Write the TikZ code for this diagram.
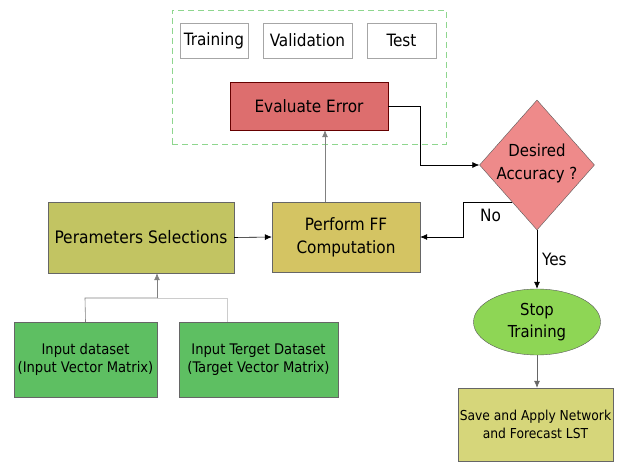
\documentclass[tikz,border=0pt]{standalone}
\usepackage{fontspec}
\setmainfont{DejaVu Sans Condensed}
\usetikzlibrary{shapes.geometric,arrows.meta}
\definecolor{evalred}{HTML}{DD6E6E}
\definecolor{diamred}{HTML}{EE8A8A}
\definecolor{ffyel}{HTML}{D4C463}
\definecolor{parolive}{HTML}{C2C462}
\definecolor{ingreen}{HTML}{5EBF62}
\definecolor{stopgreen}{HTML}{8ED655}
\definecolor{saveyel}{HTML}{D6D67A}
\definecolor{dashgreen}{HTML}{8ED68E}
\tikzset{
  box/.style={draw=gray!80!black, rectangle, inner sep=0pt, align=center, font=\fontsize{14.6}{18}\selectfont},
  tab/.style={draw=gray!70, rectangle, inner sep=0pt, align=center, font=\fontsize{17}{20}\selectfont, minimum height=35pt},
  arr/.style={-{Latex[length=7pt,width=6pt]}, line width=0.6pt},
  lbl/.style={font=\fontsize{17}{20}\selectfont, inner sep=0pt}
}
\begin{document}
\begin{tikzpicture}[x=1pt,y=-1pt]
\useasboundingbox (0,0) rectangle (618,462);
% dashed frame
\node[draw=dashgreen, dash pattern=on 6pt off 4pt, minimum width=274pt, minimum height=134pt, inner sep=0pt] (frame) at (309,77) {};
\node[tab, minimum width=68pt] (train) at (214,40.5) {Training};
\node[tab, minimum width=89pt] (valid) at (307.5,40.5) {Validation};
\node[tab, minimum width=69pt] (test) at (401.5,40.5) {Test};
\node[box, fill=evalred, draw=red!40!black, minimum width=158pt, minimum height=48pt, font=\fontsize{17}{20}\selectfont] (eval) at (309,106) {Evaluate Error};
% diamond
\node[diamond, draw=gray!70!black, fill=diamred, aspect=0.885, minimum width=115pt, minimum height=130pt, inner sep=0pt] (dec) at (537,165) {};
\node[lbl, align=center, font=\fontsize{16.6}{23}\selectfont] (dectxt) at (537,163) {Desired\\Accuracy ?};
% perform FF
\node[box, fill=ffyel, minimum width=148pt, minimum height=70pt, font=\fontsize{17}{23}\selectfont] (ff) at (346,237) {Perform FF\\Computation};
\node[box, fill=parolive, minimum width=186pt, minimum height=71pt, font=\fontsize{17.2}{20}\selectfont] (par) at (141,237.5) {Perameters Selections};
\node[box, fill=ingreen, minimum width=143pt, minimum height=75pt] (in1) at (85.5,359.5) {Input dataset\\(Input Vector Matrix)};
\node[box, fill=ingreen, minimum width=159pt, minimum height=75pt] (in2) at (258.5,359.5) {Input Terget Dataset\\(Target Vector Matrix)};
\node[ellipse, draw=gray!70!black, fill=stopgreen, minimum width=127pt, minimum height=66pt, inner sep=0pt, align=center, font=\fontsize{16.5}{22}\selectfont] (stop) at (537,322) {Stop\\Training};
\node[box, fill=saveyel, minimum width=155pt, minimum height=73pt, font=\fontsize{13.7}{18}\selectfont] (save) at (535.5,424.5) {Save and Apply Network\\and Forecast LST};
% connectors
\coordinate (jx) at (420,0);
\draw[arr] (eval.east) -- (eval.east -| jx) -- (dec.west -| jx) -- (dec.west);
\coordinate (n1) at (512,202);
\coordinate (n2) at (463,202);
\draw[arr] (n1) -- (n2) -- (n2 |- ff.east) -- (ff.east);
\node[lbl, anchor=west] (no) at (480,215) {No};
\draw[arr] (dec.south) -- (stop.north);
\node[lbl, anchor=west] (yes) at (542,259) {Yes};
\draw[arr, draw=gray!80!black] (stop.south) -- (save.north -| stop.south);
\draw[arr] (par.east) -- (ff.west);
\coordinate (fx) at (325,0);
\draw[arr, draw=gray] (ff.north -| fx) -- (eval.south -| fx);
\coordinate (m1) at (85,298);
\coordinate (m2) at (157,298);
\coordinate (m3) at (227,298);
\draw[gray, line width=0.6pt] (in1.north) -- (m1) -- (m2);
\draw[gray!40, line width=0.8pt] (m2) -- (m3) -- (in2.north -| m3);
\draw[arr, draw=gray] (m2) -- (par.south -| m2);
\end{tikzpicture}
\end{document}
